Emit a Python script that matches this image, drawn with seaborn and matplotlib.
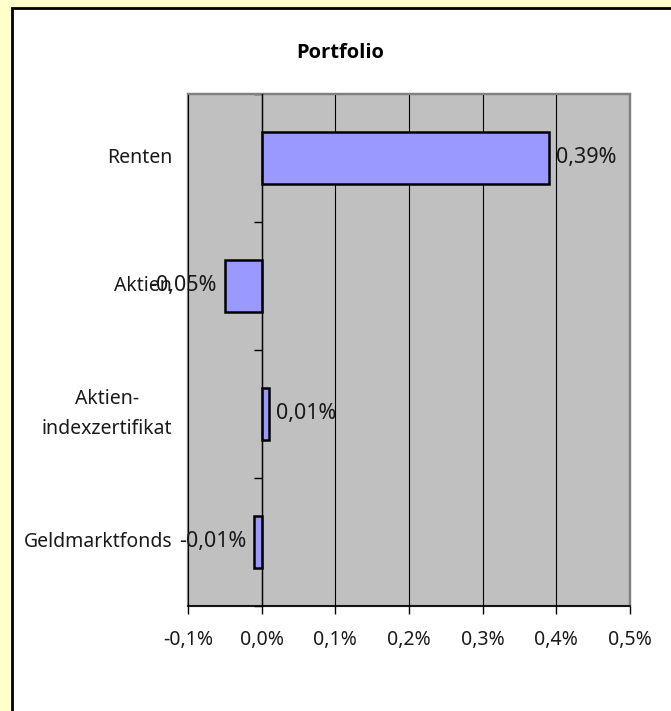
import matplotlib
matplotlib.use("Agg")
import matplotlib.pyplot as plt
import matplotlib.patches as mpatches
import matplotlib.transforms as mtrans
import seaborn as sns
import pandas as pd

# data ---------------------------------------------------------------
categories = ["Renten", "Aktien", "Aktien-\nindexzertifikat", "Geldmarktfonds"]
values = [0.39, -0.05, 0.01, -0.01]          # in %
x_ticks = [-0.1, 0.0, 0.1, 0.2, 0.3, 0.4, 0.5]
title = "Portfolio"

df = pd.DataFrame({"Kategorie": categories, "Wert": values})

sns.set_theme(style="white")
plt.rcParams["font.family"] = ["Noto Sans", "DejaVu Sans"]
FS = 14          # axis text
FS_LAB = 15.5    # data labels

W, H = 671, 711
fig = plt.figure(figsize=(W / 100, H / 100), dpi=100, facecolor="#FFFFCC")

# white chart panel with black border (left/top visible)
fig.patches.append(mpatches.Rectangle((12 / W, -0.1), 1.2, (H - 8) / H + 0.1,
                                      transform=fig.transFigure, facecolor="white",
                                      edgecolor="black", linewidth=2, zorder=-5))

ax = fig.add_axes([188 / W, (H - 606) / H, (630 - 188) / W, (606 - 94) / H])
ax.set_facecolor("#C0C0C0")

sns.barplot(data=df, y="Kategorie", x="Wert", orient="h", ax=ax, width=0.41,
            color="#9999FF", saturation=1, edgecolor="black", linewidth=1.8, zorder=3)

ax.set_xlim(x_ticks[0], x_ticks[-1])
ax.set_ylim(len(categories) - 0.5, -0.5)
ax.set_xticks(x_ticks)
ax.set_xticklabels([f"{t:.1f}".replace(".", ",") + "%" for t in x_ticks], fontsize=FS)
ax.set_xlabel("")
ax.set_ylabel("")

# vertical gridlines
ax.xaxis.grid(True, color="black", linewidth=0.8, zorder=1)
ax.set_axisbelow(True)

# gray plot-area frame
for s in ["top", "right"]:
    ax.spines[s].set_color("#808080")
    ax.spines[s].set_linewidth(1.6)
ax.add_patch(mpatches.Rectangle((0, 0), 1, 1, transform=ax.transAxes, fill=False,
                                edgecolor="#808080", linewidth=1.6, clip_on=False, zorder=0.5))
ax.spines["bottom"].set_color("black")
ax.spines["bottom"].set_linewidth(1.2)
ax.spines["bottom"].set_zorder(4)

# y axis sits at x = 0, ticks between categories
ax.spines["left"].set_position(("data", 0))
ax.spines["left"].set_color("black")
ax.spines["left"].set_linewidth(1.0)
ax.spines["left"].set_zorder(4)
ax.set_yticks([i - 0.5 for i in range(len(categories) + 1)])
ax.set_yticklabels([])
ax.tick_params(axis="y", left=True, length=6, width=1, color="black", direction="out")
ax.tick_params(axis="x", bottom=True, length=6, width=1, color="black", direction="out",
               pad=11, labelcolor="#1a1a1a")

# category labels left of the plot area
tr = mtrans.blended_transform_factory(ax.transAxes, ax.transData)
for i, c in enumerate(categories):
    ax.text(-0.036, i, c, transform=tr, ha="right", va="center", multialignment="center",
            fontsize=FS, color="#1a1a1a", linespacing=1.6)

# data labels
for i, v in enumerate(values):
    lab = f"{v:.2f}".replace(".", ",") + "%"
    if v >= 0:
        ax.annotate(lab, (v, i), xytext=(5, 0), textcoords="offset points",
                    ha="left", va="center", fontsize=FS_LAB, color="#1a1a1a", zorder=5)
    else:
        ax.annotate(lab, (v, i), xytext=(-6, 0), textcoords="offset points",
                    ha="right", va="center", fontsize=FS_LAB, color="#1a1a1a", zorder=5,
                    annotation_clip=False)

fig.text(340 / W, (H - 53) / H, title, ha="center", va="center", fontsize=14.5,
         fontweight="bold", color="black", family=["Open Sans", "DejaVu Sans"])

fig.savefig("out.png", dpi=100, facecolor=fig.get_facecolor())
